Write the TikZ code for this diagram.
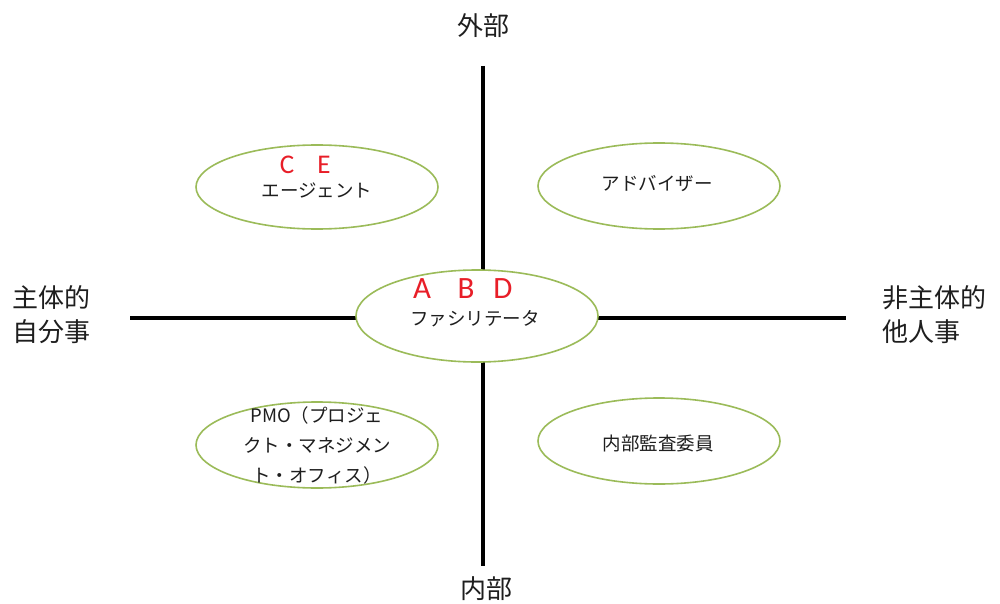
\documentclass[tikz,border=0pt]{standalone}
\usepackage{fontspec}
\setmainfont{Noto Sans CJK JP}
\newfontfamily\latinfont{Carlito}
\usetikzlibrary{shapes.geometric}
\definecolor{olivegreen}{RGB}{155,187,89}
\definecolor{markred}{RGB}{232,30,40}
\definecolor{textdark}{RGB}{30,30,30}
\tikzset{
  axisline/.style={line width=4.5pt, black},
  bubble/.style={ellipse, draw=olivegreen, line width=1.6pt, fill=white,
    minimum width=242pt, inner sep=0pt, text=textdark,
    font=\fontsize{18.5pt}{30pt}\selectfont, align=center},
  axislabel/.style={font=\fontsize{26pt}{34pt}\selectfont, text=textdark, inner sep=0pt},
  marks/.style={font=\latinfont\fontsize{27pt}{30pt}\selectfont, text=markred, inner sep=0pt}
}
\begin{document}
\begin{tikzpicture}[x=1pt,y=-1pt]
\useasboundingbox (0,0) rectangle (1000,604);
\fill[white] (0,0) rectangle (1000,604);
% axis end points
\coordinate (top) at (483,66);
\coordinate (bot) at (483,566);
\coordinate (left) at (130,318);
\coordinate (right) at (846,318);
\draw[axisline] (top) -- (bot);
\draw[axisline] (left) -- (right);
% ellipses
\node[bubble, minimum height=92pt] (center) at (477,316) {};
\node[bubble, minimum height=84pt] (tl) at (317,187) {};
\node[bubble, minimum height=86pt] (tr) at (659,186) {};
\node[bubble, minimum height=86pt] (bl) at (317,445) {};
\node[bubble, minimum height=86pt] (br) at (659,441) {};
% texts in ellipses
\node[bubble, draw=none, fill=none, minimum width=0pt] (tlt) at (317,190) {エージェント};
\node[bubble, draw=none, fill=none, minimum width=0pt] (ct) at (475,319) {ファシリテータ};
\node[bubble, draw=none, fill=none, minimum width=0pt] (trt) at (657,184) {アドバイザー};
\node[bubble, draw=none, fill=none, minimum width=0pt] (brt) at (658,443) {内部監査委員};
\node[bubble, draw=none, fill=none, minimum width=0pt] (blt) at (317,445) {PMO（プロジェ\\クト・マネジメン\\ト・オフィス）};
% red marks
\node[marks] (mC) at (287,165) {C};
\node[marks] (mE) at (324,165) {E};
\node[marks, font=\latinfont\fontsize{31pt}{34pt}\selectfont] (mA) at (422,289) {A};
\node[marks, font=\latinfont\fontsize{31pt}{34pt}\selectfont] (mB) at (466,289) {B};
\node[marks, font=\latinfont\fontsize{31pt}{34pt}\selectfont] (mD) at (503,289) {D};
% axis labels
\node[axislabel] (outer) at (483,26) {外部};
\node[axislabel] (inner) at (486,589) {内部};
\node[axislabel, anchor=west, align=left] (lefttxt) at (12,315) {主体的\\自分事};
\node[axislabel, anchor=west, align=left] (righttxt) at (882,315) {非主体的\\他人事};
\end{tikzpicture}
\end{document}
